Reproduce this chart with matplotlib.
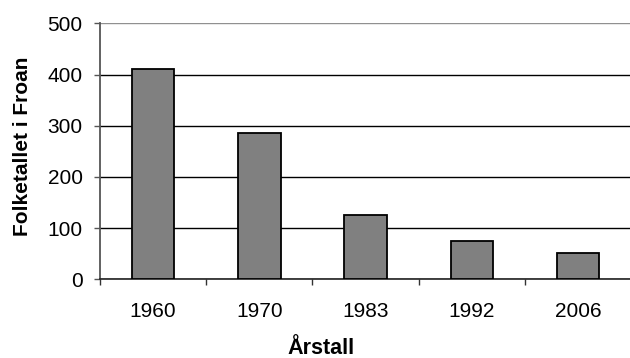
import matplotlib
matplotlib.use("Agg")
import matplotlib.pyplot as plt
import numpy as np

years = ["1960", "1970", "1983", "1992", "2006"]
population = [410, 285, 125, 74, 51]
y_ticks = [0, 100, 200, 300, 400, 500]

plt.rcParams['font.family'] = ['Liberation Sans', 'DejaVu Sans']


def main():
    fig = plt.figure(figsize=(6.3, 3.58), dpi=100)
    # plot area runs right up to the edge of the picture
    ax = fig.add_axes([0.1587, 0.2198, 0.843, 0.715])

    pos = np.arange(len(years)) + 0.5
    ax.bar(pos, population, width=0.4, color="#808080", edgecolor="black",
           linewidth=1.3, zorder=3)

    ax.set_xlim(0, len(years))
    ax.set_ylim(0, 500)
    ax.set_yticks(y_ticks)
    ax.tick_params(axis="y", labelsize=15, length=4, color="#555555", width=1, pad=8.5)
    ax.yaxis.grid(True, color="black", linewidth=1.0, zorder=0)
    ax.get_ygridlines()[-1].set_color("#909090")

    # ticks between categories, labels in the middle
    ax.set_xticks(np.arange(len(years) + 1))
    ax.set_xticklabels([])
    ax.set_xticks(pos, minor=True)
    ax.set_xticklabels(years, minor=True)
    ax.tick_params(axis="x", which="major", length=4, color="#333333", width=1)
    ax.tick_params(axis="x", which="minor", length=0, labelsize=15, pad=16)

    for s in ["top", "right"]:
        ax.spines[s].set_visible(False)
    ax.spines["left"].set_color("#555555")
    ax.spines["bottom"].set_color("#222222")
    ax.spines["left"].set_linewidth(1.3)
    ax.spines["bottom"].set_linewidth(1.2)

    ax.set_xlabel("Årstall", fontsize=15.5, fontweight="bold")
    ax.xaxis.set_label_coords(0.416, -0.228)
    ax.set_ylabel("Folketallet i Froan", fontsize=15, fontweight="bold")
    ax.yaxis.set_label_coords(-0.128, 0.52)

    fig.savefig("out.png", dpi=100)


if __name__ == '__main__':
    main()
